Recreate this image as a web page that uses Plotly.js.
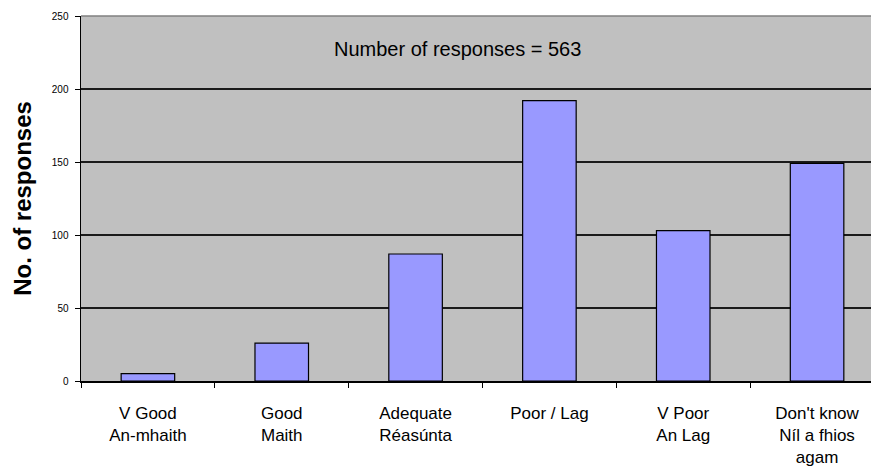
<!DOCTYPE html>
<html>
<head>
<meta charset="utf-8">
<script src="https://cdn.plot.ly/plotly-3.0.1.min.js"></script>
<style>html,body{margin:0;padding:0;background:#fff;}#chart{width:871px;height:468px;}</style>
</head>
<body>
<div id="chart"></div>
<script>
const categories = ["V Good<br>An-mhaith", "Good<br>Maith", "Adequate<br>Réasúnta", "Poor / Lag", "V Poor<br>An Lag", "Don't know<br>Níl a fhios<br>agam"];
const responses = [5, 26, 87, 192, 103, 149];
const yTickVals = [0, 50, 100, 150, 200, 250];
const noteText = "Number of responses = 563";
const yTitle = "No. of responses";

const font = "Liberation Sans, Arial, sans-serif";

const trace = {
  type: "bar",
  x: categories,
  y: responses,
  width: 0.4,
  marker: {color: "#9999FF", line: {color: "#000000", width: 1.2}},
  hoverinfo: "skip"
};

const layout = {
  width: 871,
  height: 468,
  margin: {l: 81, r: 0, t: 16, b: 87, pad: 0},
  paper_bgcolor: "#ffffff",
  plot_bgcolor: "#C0C0C0",
  showlegend: false,
  font: {family: font, color: "#000"},
  xaxis: {
    type: "category",
    range: [-0.5, 5.403],
    tickson: "boundaries",
    ticks: "outside",
    ticklen: 5,
    tickcolor: "#000",
    tickwidth: 1,
    showline: true,
    linecolor: "#000",
    linewidth: 1.5,
    showgrid: false,
    tickfont: {family: font, size: 17, color: "#000"},
    ticklabelstandoff: 16,
    fixedrange: true
  },
  yaxis: {
    range: [0, 250],
    tickvals: yTickVals,
    ticks: "outside",
    ticklen: 5,
    tickcolor: "#000",
    showline: true,
    linecolor: "#000",
    linewidth: 1.5,
    showgrid: true,
    gridcolor: "#1a1a1a",
    gridwidth: 1.2,
    zeroline: false,
    tickfont: {family: font, size: 10, color: "#000"},
    ticklabelstandoff: 4,
    title: {text: yTitle, font: {family: font, size: 24, color: "#000", weight: "bold"}, standoff: 13},
    fixedrange: true
  },
  annotations: [{
    text: noteText,
    xref: "paper", yref: "paper",
    x: 0.4766, y: 0.9096,
    xanchor: "center", yanchor: "middle",
    showarrow: false,
    font: {family: font, size: 20, color: "#000"}
  }],
  shapes: [{
    type: "line", xref: "paper", yref: "paper",
    x0: 0, x1: 1, y0: 1, y1: 1,
    line: {color: "#808080", width: 1.5}
  }]
};

Plotly.newPlot("chart", [trace], layout, {displayModeBar: false, staticPlot: true});
</script>
</body>
</html>
